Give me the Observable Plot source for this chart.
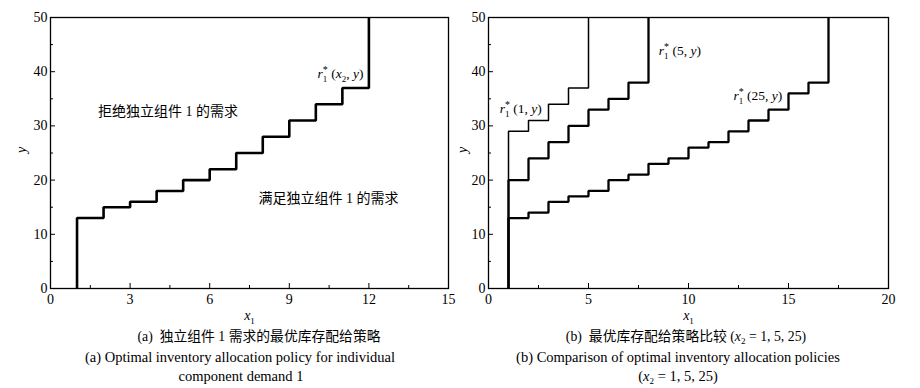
<!DOCTYPE html>
<html><head><meta charset="utf-8">
<script src="https://cdn.jsdelivr.net/npm/d3@7"></script>
<script src="https://cdn.jsdelivr.net/npm/@observablehq/plot@0.6"></script>
<style>
body{margin:0;background:#fff;width:920px;height:388px;position:relative;overflow:hidden;font-family:"Liberation Serif","Noto Sans CJK SC",serif;color:#000;}
#a{position:absolute;left:0;top:0}
#b{position:absolute;left:460px;top:0}
.cap{position:absolute;font-size:14.5px;line-height:16px;white-space:nowrap;transform:translateX(-50%);}
.cap.zh{font-size:13.8px}
.cap sub{font-size:9px;vertical-align:-3px;line-height:0}
</style></head>
<body>
<div id="a"></div><div id="b"></div>
<div class="cap zh" style="left:259px;top:329px">(a)&nbsp;&nbsp;独立组件 1 需求的最优库存配给策略</div>
<div class="cap" style="left:240px;top:349px">(a) Optimal inventory allocation policy for individual</div>
<div class="cap" style="left:241px;top:368px">component demand 1</div>
<div class="cap zh" style="left:686px;top:329px">(b)&nbsp;&nbsp;最优库存配给策略比较 (<i>x</i><sub>2</sub> = 1, 5, 25)</div>
<div class="cap" style="left:678px;top:349px">(b) Comparison of optimal inventory allocation policies</div>
<div class="cap" style="left:678px;top:368px">(<i>x</i><sub>2</sub> = 1, 5, 25)</div>
<script>
// ---- data ----
const leftX = [1, 1, 2, 3, 4, 5, 6, 7, 8, 9, 10, 11, 12];
const leftY = [0, 13, 15, 16, 18, 20, 22, 25, 28, 31, 34, 37, 50];

const s1X = [1, 1, 2, 3, 4, 5];
const s1Y = [0, 29, 31, 34, 37, 50];
const s5X = [1, 1, 2, 3, 4, 5, 6, 7, 8];
const s5Y = [0, 20, 24, 27, 30, 33, 35, 38, 50];
const s25X = [1, 1, 2, 3, 4, 5, 6, 7, 8, 9, 10, 11, 12, 13, 14, 15, 16, 17];
const s25Y = [0, 13, 14, 16, 17, 18, 20, 21, 23, 24, 26, 27, 29, 31, 33, 36, 38, 50];

const leftXTicks = [0, 3, 6, 9, 12, 15];
const leftXMinor = [1.5, 4.5, 7.5, 10.5, 13.5];
const rightXTicks = [0, 5, 10, 15, 20];
const rightXMinor = [2.5, 7.5, 12.5, 17.5];
const yTicks = [0, 10, 20, 30, 40, 50];
const yMinor = [5, 15, 25, 35, 45];

const leftMath = [{t: "r_1^* (x_2, y)", x: 10.93, y: 39.6}];
const leftRegions = [
  {t: "拒绝独立组件 1 的需求", x: 4.43, y: 32.7},
  {t: "满足独立组件 1 的需求", x: 10.48, y: 16.6}
];
const rightMath = [
  {t: "r_1^* (1, y)", x: 1.61, y: 33.2},
  {t: "r_1^* (5, y)", x: 9.57, y: 43.9},
  {t: "r_1^* (25, y)", x: 13.47, y: 35.6}
];

const pts = (xs, ys) => xs.map((x, i) => ({x, y: ys[i]}));

function panel({xDomain, xTicks, xMinor, series, widths, math, regions, ml, mr, ylabDx}) {
  const font = "'Liberation Serif','Noto Sans CJK SC',serif";
  return Plot.plot({
    width: 460, height: 322,
    marginLeft: ml, marginRight: mr, marginTop: 17, marginBottom: 34,
    x: {domain: xDomain}, y: {domain: [0, 50]},
    style: {fontFamily: font, fontSize: "14px", color: "#000", background: "#fff", overflow: "visible"},
    marks: [
      ...series.map((s, k) => Plot.line(s, {x: "x", y: "y", curve: "step-after", stroke: "#000",
        strokeWidth: widths[k], strokeLinejoin: "miter", strokeLinecap: "butt"})),
      Plot.frame({stroke: "#000", strokeWidth: 1.3}),
      Plot.axisX(xTicks, {tickSize: -5, tickPadding: 11, label: null, strokeWidth: 1}),
      Plot.axisX(xMinor, {tickSize: -3, tickFormat: () => "", label: null, strokeWidth: 1}),
      Plot.axisY(yTicks, {tickSize: -5, tickPadding: 8, label: null, strokeWidth: 1}),
      Plot.axisY(yMinor, {tickSize: -3, tickFormat: () => "", label: null, strokeWidth: 1}),
      Plot.text(regions, {x: "x", y: "y", text: "t", fontSize: 14, textAnchor: "middle"}),
      Plot.text(math, {x: "x", y: "y", text: "t", fontSize: 13.5, textAnchor: "middle"}),
      Plot.text(["x_1"], {frameAnchor: "bottom", dy: 31, fontSize: 14}),
      Plot.text(["y"], {frameAnchor: "left", dx: ylabDx, rotate: -90, fontSize: 14})
    ]
  });
}

function mathify(el) {
  const s = el.textContent;
  el.textContent = "";
  let cur = 0, i = 0;
  const add = (txt, {italic = false, size = null, shift = 0, dx = 0} = {}) => {
    const t = document.createElementNS("http://www.w3.org/2000/svg", "tspan");
    t.textContent = txt;
    if (italic) t.setAttribute("font-style", "italic");
    if (size) t.setAttribute("font-size", size);
    if (shift !== cur) { t.setAttribute("dy", shift - cur); cur = shift; }
    if (dx) t.setAttribute("dx", dx);
    el.appendChild(t);
  };
  while (i < s.length) {
    const c = s[i];
    if (c === "_") { add(s[i + 1], {size: 9, shift: 4}); i += 2; }
    else if (c === "^") { add(s[i + 1], {size: 10, shift: -5, dx: s[i - 2] === "_" ? -4.5 : 0}); i += 2; }
    else { add(c, {italic: /[a-z]/.test(c), shift: 0}); i++; }
  }
}

const A = panel({xDomain: [0, 15], xTicks: leftXTicks, xMinor: leftXMinor,
  series: [pts(leftX, leftY)], widths: [2.6], math: leftMath, regions: leftRegions,
  ml: 50, mr: 12, ylabDx: -29});
const B = panel({xDomain: [0, 20], xTicks: rightXTicks, xMinor: rightXMinor,
  series: [pts(s1X, s1Y), pts(s5X, s5Y), pts(s25X, s25Y)], widths: [1.5, 2.3, 2.3], math: rightMath, regions: [],
  ml: 28, mr: 32, ylabDx: -26});
document.getElementById("a").appendChild(A);
document.getElementById("b").appendChild(B);
for (const svg of [A, B]) {
  svg.querySelectorAll("text").forEach(el => {
    const s = el.textContent;
    if (/[_^]/.test(s) || s === "y") mathify(el);
  });
}
</script>
</body></html>
